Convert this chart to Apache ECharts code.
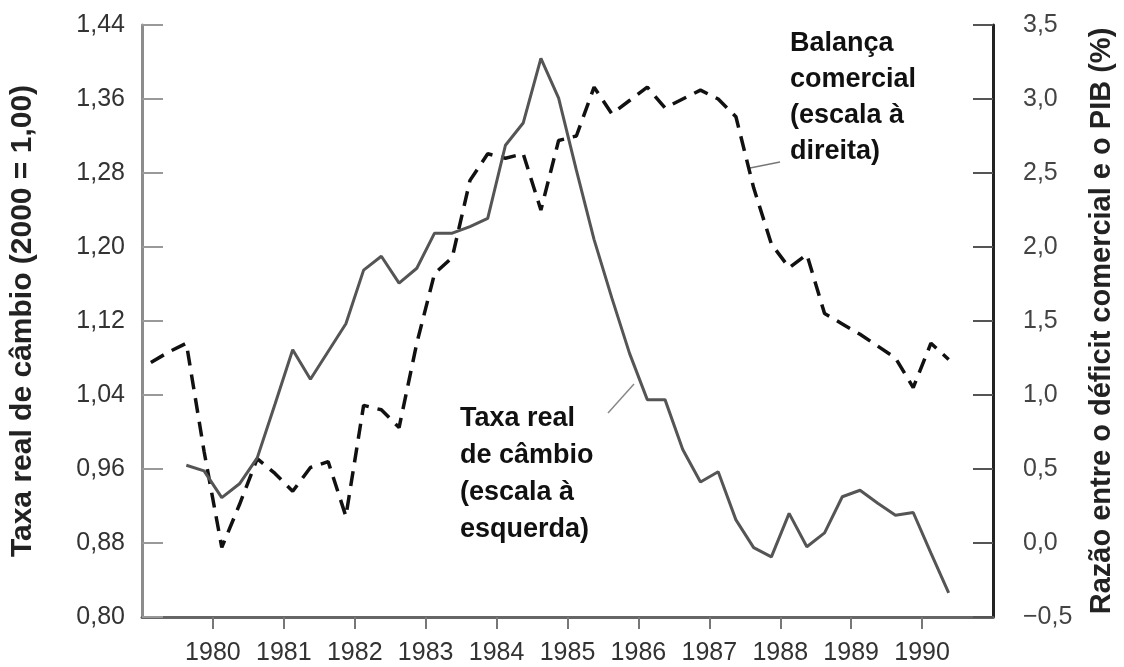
<!DOCTYPE html>
<html>
<head>
<meta charset="utf-8">
<script src="https://cdn.jsdelivr.net/npm/echarts@6/dist/echarts.min.js"></script>
<style>
  html, body { margin: 0; padding: 0; background: #fff; }
  #chart { width: 1124px; height: 667px; }
</style>
</head>
<body>
<div id="chart"></div>
<script>
// trimestres 1979T1 .. 1990T2
var trimestres = [
  '1979T1','1979T2','1979T3','1979T4',
  '1980T1','1980T2','1980T3','1980T4',
  '1981T1','1981T2','1981T3','1981T4',
  '1982T1','1982T2','1982T3','1982T4',
  '1983T1','1983T2','1983T3','1983T4',
  '1984T1','1984T2','1984T3','1984T4',
  '1985T1','1985T2','1985T3','1985T4',
  '1986T1','1986T2','1986T3','1986T4',
  '1987T1','1987T2','1987T3','1987T4',
  '1988T1','1988T2','1988T3','1988T4',
  '1989T1','1989T2','1989T3','1989T4',
  '1990T1','1990T2'
];

// taxa real de cambio (escala a esquerda), 2000 = 1,00
var taxaCambio = [
  null, null, 0.964, 0.958,
  0.929, 0.944, 0.972, 1.030,
  1.089, 1.057, 1.087, 1.117,
  1.175, 1.190, 1.161, 1.177,
  1.215, 1.215, 1.222, 1.231,
  1.310, 1.334, 1.404, 1.361,
  1.283, 1.208, 1.145, 1.085,
  1.035, 1.035, 0.981, 0.946,
  0.957, 0.905, 0.875, 0.865,
  0.912, 0.876, 0.891, 0.930,
  0.937, 0.923, 0.910, 0.913,
  0.869, 0.826
];

// balanca comercial: deficit comercial / PIB em % (escala a direita)
var balancaComercial = [
  1.22, 1.29, 1.35, 0.62,
  -0.03, 0.26, 0.57, 0.47,
  0.35, 0.51, 0.55, 0.18,
  0.93, 0.90, 0.78, 1.35,
  1.82, 1.93, 2.45, 2.63,
  2.60, 2.63, 2.25, 2.72,
  2.75, 3.08, 2.90, 2.99,
  3.08, 2.94, 3.00, 3.06,
  3.00, 2.88, 2.40, 2.02,
  1.86, 1.95, 1.55, 1.48,
  1.41, 1.33, 1.25, 1.05,
  1.35, 1.24
];

var anos = [1980, 1981, 1982, 1983, 1984, 1985, 1986, 1987, 1988, 1989, 1990];
var ticksEsquerda = [0.80, 0.88, 0.96, 1.04, 1.12, 1.20, 1.28, 1.36, 1.44];
var ticksDireita = [-0.5, 0.0, 0.5, 1.0, 1.5, 2.0, 2.5, 3.0, 3.5];

var fonte = '"Liberation Sans", Arial, sans-serif';

// posicao no eixo: meio do trimestre
function posTrimestre(t) {
  var ano = parseInt(t.substr(0, 4), 10);
  var q = parseInt(t.substr(5), 10);
  return ano + (q - 0.5) / 4;
}

function montaSerie(valores) {
  var out = [];
  for (var i = 0; i < trimestres.length; i++) {
    if (valores[i] === null) continue;
    out.push([posTrimestre(trimestres[i]), valores[i]]);
  }
  return out;
}

function virgula(v, casas) {
  var s = Math.abs(v).toFixed(casas).replace('.', ',');
  return v < 0 ? '\u2212' + s : s;
}

var chart = echarts.init(document.getElementById('chart'));

var option = {
  animation: false,
  backgroundColor: '#fff',
  grid: { left: 139, right: 130, top: 25, bottom: 50 },
  xAxis: {
    type: 'value',
    min: 1979,
    max: 1991,
    interval: 1,
    splitLine: { show: false },
    axisLine: { onZero: false, lineStyle: { color: '#666', width: 3 } },
    axisTick: { show: true, customValues: anos, length: 12, lineStyle: { color: '#777', width: 2 } },
    axisLabel: {
      customValues: anos,
      margin: 24,
      color: '#333',
      fontFamily: fonte,
      fontSize: 25,
      formatter: function (v) { return String(v); }
    }
  },
  yAxis: [
    {
      type: 'value',
      position: 'left',
      min: 0.8,
      max: 1.44,
      interval: 0.08,
      splitLine: { show: false },
      axisLine: { show: true, onZero: false, lineStyle: { color: '#8c8c8c', width: 3 } },
      axisTick: { show: true, inside: true, length: 21, customValues: ticksEsquerda, lineStyle: { color: '#999', width: 2 } },
      axisLabel: {
        customValues: ticksEsquerda,
        margin: 17,
        color: '#333',
        fontFamily: fonte,
        fontSize: 25,
        formatter: function (v) { return virgula(v, 2); }
      },
      name: 'Taxa real de câmbio (2000 = 1,00)',
      nameLocation: 'middle',
      nameRotate: 90,
      nameGap: 104,
      nameTextStyle: { fontFamily: fonte, fontSize: 30, fontWeight: 'bold', color: '#222' }
    },
    {
      type: 'value',
      position: 'right',
      min: -0.5,
      max: 3.5,
      interval: 0.5,
      splitLine: { show: false },
      axisLine: { show: true, onZero: false, lineStyle: { color: '#222', width: 3 } },
      axisTick: { show: true, inside: true, length: 20, customValues: ticksDireita, lineStyle: { color: '#555', width: 2 } },
      axisLabel: {
        customValues: ticksDireita,
        margin: 30,
        color: '#444',
        fontFamily: fonte,
        fontSize: 25,
        formatter: function (v) { return virgula(v, 1); }
      },
      name: 'Razão entre o déficit comercial e o PIB (%)',
      nameLocation: 'middle',
      nameRotate: 90,
      nameGap: 94,
      nameTextStyle: { fontFamily: fonte, fontSize: 29, fontWeight: 'bold', color: '#222' }
    }
  ],
  series: [
    {
      name: 'Taxa real de câmbio',
      type: 'line',
      yAxisIndex: 0,
      data: montaSerie(taxaCambio),
      showSymbol: false,
      lineStyle: { color: '#555', width: 3 },
      z: 3
    },
    {
      name: 'Balança comercial',
      type: 'line',
      yAxisIndex: 1,
      data: montaSerie(balancaComercial),
      showSymbol: false,
      lineStyle: { color: '#111', width: 3.5, type: [15, 9] },
      z: 2
    }
  ],
  graphic: [
    {
      type: 'text',
      left: 790,
      top: 26,
      style: {
        text: 'Balança\ncomercial\n(escala à\ndireita)',
        font: 'bold 27px ' + fonte,
        lineHeight: 36,
        fill: '#111'
      }
    },
    {
      type: 'line',
      shape: { x1: 750, y1: 168, x2: 780, y2: 162 },
      style: { stroke: '#777', lineWidth: 1.5 }
    },
    {
      type: 'text',
      left: 460,
      top: 400,
      style: {
        text: 'Taxa real\nde câmbio\n(escala à\nesquerda)',
        font: 'bold 27px ' + fonte,
        lineHeight: 37,
        fill: '#111'
      }
    },
    {
      type: 'line',
      shape: { x1: 608, y1: 413, x2: 634, y2: 384 },
      style: { stroke: '#888', lineWidth: 1.5 }
    }
  ]
};

chart.setOption(option);
</script>
</body>
</html>
